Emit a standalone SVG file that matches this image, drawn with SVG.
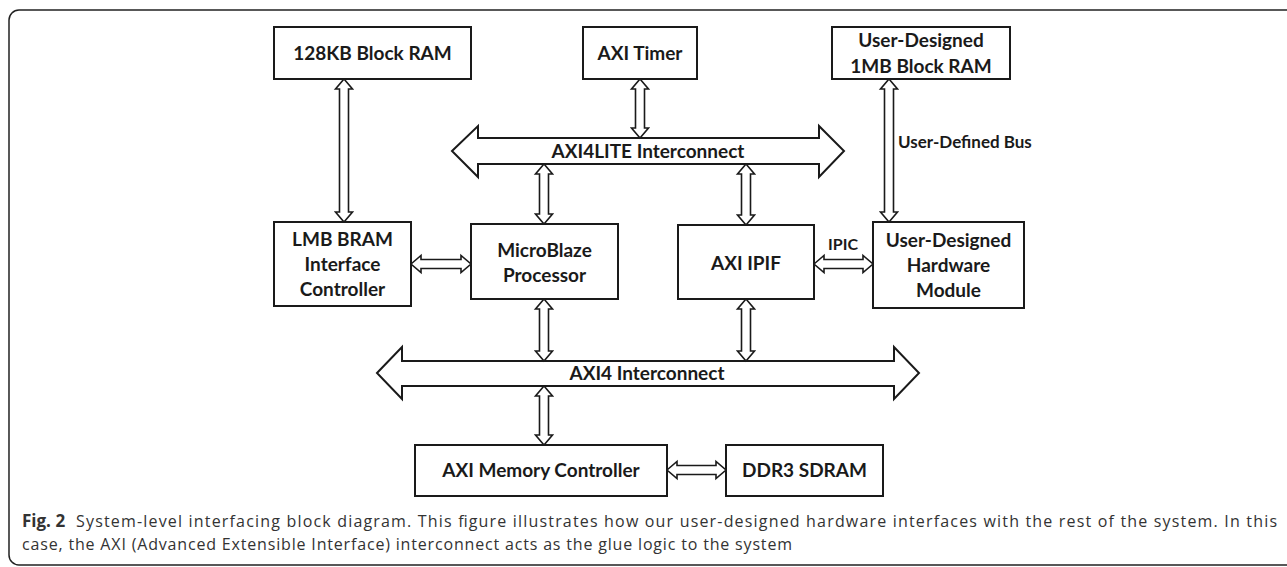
<svg xmlns="http://www.w3.org/2000/svg" width="1287" height="567" viewBox="0 0 1287 567">
<style>
.box{fill:#fff;stroke:#1a1a1a;stroke-width:2}
.arr{fill:#fff;stroke:#1a1a1a;stroke-width:1.6;stroke-linejoin:miter}
.bus{fill:#fff;stroke:#1a1a1a;stroke-width:2;stroke-linejoin:miter}
.t{font-family:Lato,"Open Sans","Liberation Sans",sans-serif;font-weight:bold;font-size:19px;fill:#1a1a1a;text-anchor:middle}
.s{font-family:Lato,"Open Sans","Liberation Sans",sans-serif;font-weight:bold;font-size:16px;fill:#1a1a1a}
.cap{font-family:"Open Sans","Noto Sans","Liberation Sans",sans-serif;font-size:16px;fill:#333}
</style>
<rect x="9" y="10" width="1290" height="555" rx="10" fill="none" stroke="#222" stroke-width="1.5"/>
<g id="connectors">
<polygon id="bus-axi4lite" class="bus" points="452,151 478,126 478,138 819,138 819,126 844,151 819,177 819,164 478,164 478,177"/>
<polygon id="bus-axi4" class="bus" points="377,373 402,347 402,361 894,361 894,347 919,373 894,399 894,386 402,386 402,399"/>
<polygon class="arr" points="344,79 352.5,89 348.5,89 348.5,212 352.5,212 344,222 335.5,212 339.5,212 339.5,89 335.5,89"/>
<polygon class="arr" points="640,79 648.5,89 644.5,89 644.5,128 648.5,128 640,138 631.5,128 635.5,128 635.5,89 631.5,89"/>
<polygon class="arr" points="889,79 897.5,89 893.5,89 893.5,212 897.5,212 889,222 880.5,212 884.5,212 884.5,89 880.5,89"/>
<polygon class="arr" points="544,164 552.5,174 548.5,174 548.5,214 552.5,214 544,224 535.5,214 539.5,214 539.5,174 535.5,174"/>
<polygon class="arr" points="746,164 754.5,174 750.5,174 750.5,215 754.5,215 746,225 737.5,215 741.5,215 741.5,174 737.5,174"/>
<polygon class="arr" points="544,299 552.5,309 548.5,309 548.5,351 552.5,351 544,361 535.5,351 539.5,351 539.5,309 535.5,309"/>
<polygon class="arr" points="746,299 754.5,309 750.5,309 750.5,351 754.5,351 746,361 737.5,351 741.5,351 741.5,309 737.5,309"/>
<polygon class="arr" points="544,386 552.5,396 548.5,396 548.5,435 552.5,435 544,445 535.5,435 539.5,435 539.5,396 535.5,396"/>
<polygon class="arr" points="411,264 421,255.5 421,259.5 461,259.5 461,255.5 471,264 461,272.5 461,268.5 421,268.5 421,272.5"/>
<polygon class="arr" points="814,264 824,255.5 824,259.5 863,259.5 863,255.5 873,264 863,272.5 863,268.5 824,268.5 824,272.5"/>
<polygon class="arr" points="667,470 677,461.5 677,465.5 716,465.5 716,461.5 726,470 716,478.5 716,474.5 677,474.5 677,478.5"/>
<text class="t" x="648" y="158">AXI4LITE Interconnect</text>
<text class="t" x="647" y="380">AXI4 Interconnect</text>
<text class="s" x="898" y="148" style="font-size:17px">User-Defined Bus</text>
<text class="s" x="843" y="250" text-anchor="middle">IPIC</text>
</g>
<g id="bram128"><rect class="box" x="274" y="27" width="197" height="52"/><text class="t" x="372.5" y="60">128KB Block RAM</text></g>
<g id="timer"><rect class="box" x="583" y="27" width="114" height="52"/><text class="t" x="640" y="60">AXI Timer</text></g>
<g id="ubram"><rect class="box" x="832" y="27" width="178" height="52"/><text class="t" x="921" y="47">User-Designed</text><text class="t" x="921" y="73">1MB Block RAM</text></g>
<g id="lmb"><rect class="box" x="274" y="222" width="137" height="84"/><text class="t" x="342.5" y="246">LMB BRAM</text><text class="t" x="342.5" y="271">Interface</text><text class="t" x="342.5" y="296">Controller</text></g>
<g id="microblaze"><rect class="box" x="471" y="224" width="147" height="75"/><text class="t" x="544.5" y="257">MicroBlaze</text><text class="t" x="544.5" y="282">Processor</text></g>
<g id="ipif"><rect class="box" x="678" y="225" width="136" height="74"/><text class="t" x="746" y="270">AXI IPIF</text></g>
<g id="hwmodule"><rect class="box" x="873" y="222" width="151" height="86"/><text class="t" x="948.5" y="247">User-Designed</text><text class="t" x="948.5" y="272">Hardware</text><text class="t" x="948.5" y="297">Module</text></g>
<g id="memctrl"><rect class="box" x="415" y="445" width="252" height="51"/><text class="t" x="541" y="477">AXI Memory Controller</text></g>
<g id="ddr3"><rect class="box" x="726" y="445" width="157" height="51"/><text class="t" x="804.5" y="477">DDR3 SDRAM</text></g>
<g id="caption">
<text class="cap" x="22" y="527" font-weight="bold" fill="#1a1a1a" style="font-size:17px">Fig. 2</text>
<text class="cap" x="76" y="527" textLength="1201" lengthAdjust="spacing">System-level interfacing block diagram. This figure illustrates how our user-designed hardware interfaces with the rest of the system. In this</text>
<text class="cap" x="22" y="550" textLength="770" lengthAdjust="spacing">case, the AXI (Advanced Extensible Interface) interconnect acts as the glue logic to the system</text>
</g>
</svg>
